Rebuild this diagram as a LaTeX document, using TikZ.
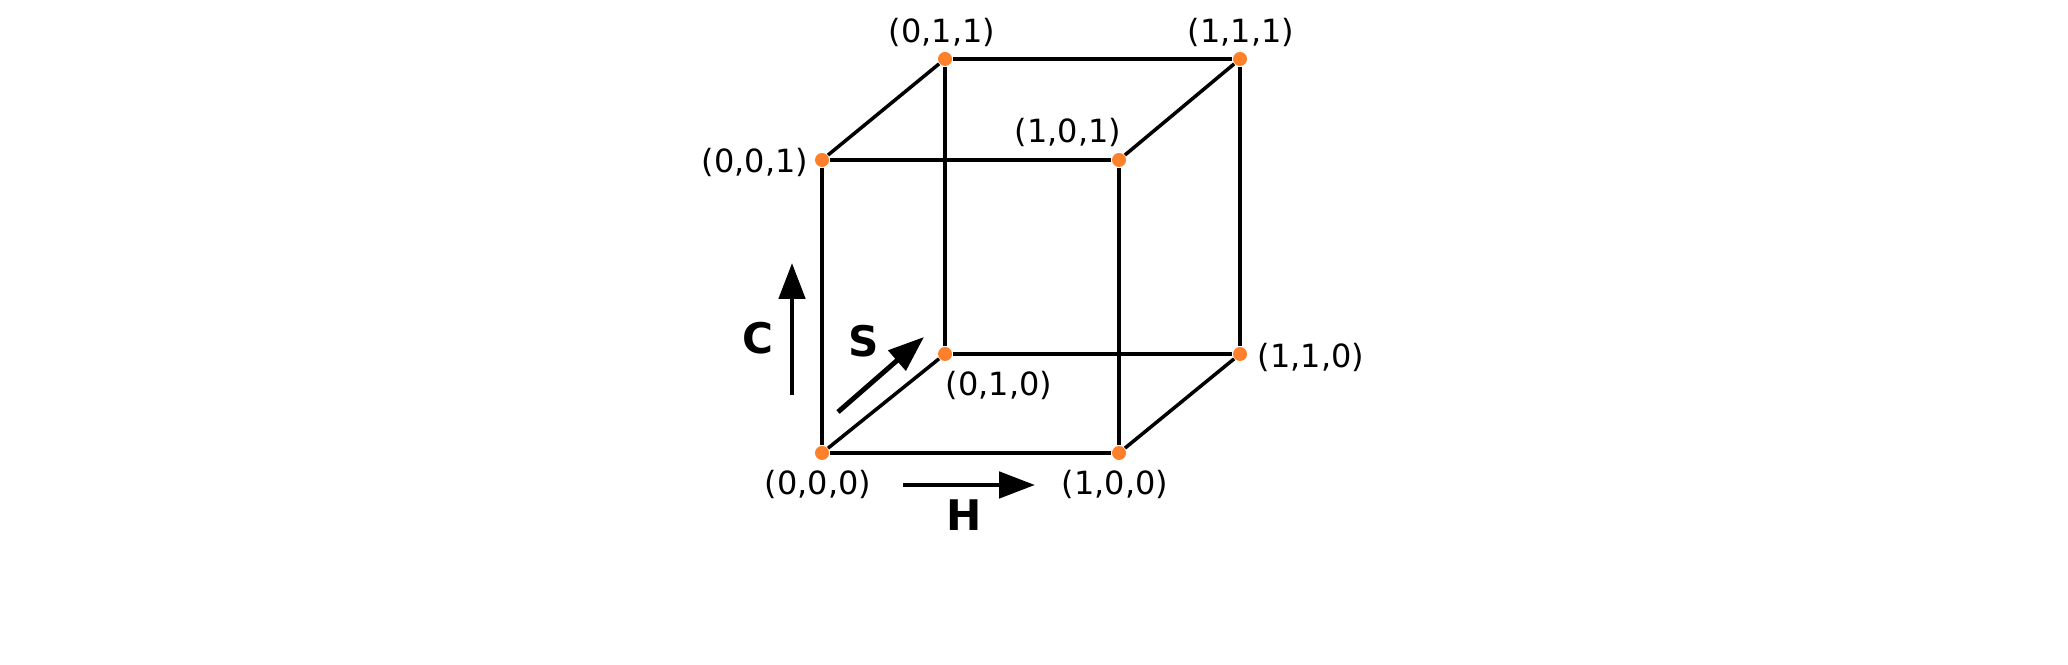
\documentclass[tikz,border=0pt]{standalone}
\usepackage{fontspec}
\setmainfont{DejaVu Sans}
\usetikzlibrary{positioning,arrows.meta}
\definecolor{dotorange}{RGB}{255,128,42}
\begin{document}
\begin{tikzpicture}[>={Triangle[length=3.6mm,width=2.6mm]},
        corner/.style={circle,fill=dotorange,inner sep=0pt,minimum size=1.4mm},
        edge/.style={line width=1pt},
        axis/.style={->,line width=1.4pt},
        coordlabel/.style={font=\fontsize{9.1}{11}\selectfont},
        axislabel/.style={font=\fontsize{12}{14}\selectfont\bfseries}]
        \useasboundingbox (0,0) rectangle (20.68,6.65);
        \node[corner] (v000) at (8.22,2.12) {};
        \node[corner] (v100) at (11.19,2.12) {};
        \node[corner] (v010) at (9.45,3.11) {};
        \node[corner] (v110) at (12.40,3.11) {};
        \node[corner] (v001) at (8.22,5.05) {};
        \node[corner] (v101) at (11.19,5.05) {};
        \node[corner] (v011) at (9.45,6.06) {};
        \node[corner] (v111) at (12.40,6.06) {};
        \draw[edge] (v000) -- (v100) -- (v101) -- (v001) -- (v000);
        \draw[edge] (v010) -- (v110) -- (v111) -- (v011) -- (v010);
        \draw[edge] (v000) -- (v010);
        \draw[edge] (v100) -- (v110);
        \draw[edge] (v001) -- (v011);
        \draw[edge] (v101) -- (v111);
        \node[coordlabel] (l000) at (8.18,1.81) {(0,0,0)};
        \node[coordlabel] (l100) at (11.15,1.81) {(1,0,0)};
        \node[coordlabel] (l010) at (9.99,2.80) {(0,1,0)};
        \node[coordlabel] (l110) at (13.11,3.08) {(1,1,0)};
        \node[coordlabel] (l001) at (7.55,5.03) {(0,0,1)};
        \node[coordlabel] (l101) at (10.68,5.33) {(1,0,1)};
        \node[coordlabel] (l011) at (9.42,6.33) {(0,1,1)};
        \node[coordlabel] (l111) at (12.41,6.33) {(1,1,1)};
        \coordinate (h0) at (9.03,1.80);
        \coordinate (h1) at (10.35,1.80);
        \coordinate (c0) at (7.92,2.70);
        \coordinate (c1) at (7.92,4.02);
        \coordinate (s0) at (8.38,2.53);
        \coordinate (s1) at (9.24,3.28);
        \draw[axis] (h0) -- (h1);
        \draw[axis] (c0) -- (c1);
        \draw[axis] (s0) -- (s1);
        \node[axislabel] (hl) at (9.64,1.50) {H};
        \node[axislabel] (cl) at (7.58,3.27) {C};
        \node[axislabel] (sl) at (8.64,3.24) {S};
    \end{tikzpicture}
\end{document}
